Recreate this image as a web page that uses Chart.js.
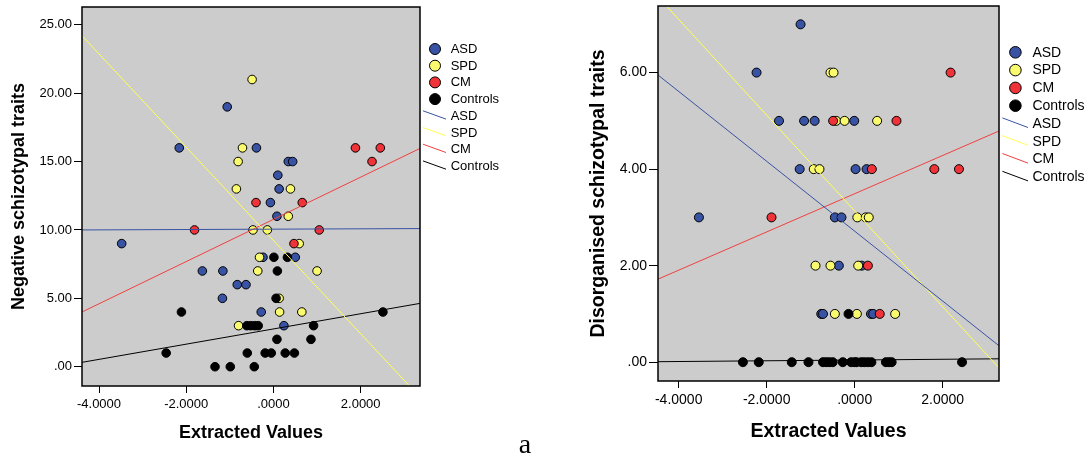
<!DOCTYPE html>
<html>
<head>
<meta charset="utf-8">
<script src="https://cdn.jsdelivr.net/npm/chart.js@4.4.0/dist/chart.umd.min.js"></script>
<style>
  body { margin: 0; background: #fff; width: 1088px; height: 462px; position: relative; overflow: hidden; }
  canvas { position: absolute; top: 0; }
  #negChart { left: 0; }
  #disChart { left: 540px; }
  #panel { position: absolute; left: 500px; width: 50px; top: 428px; text-align: center; font: 28px "Liberation Serif", serif; color: #000; }
</style>
</head>
<body>
<canvas id="negChart" width="540" height="462"></canvas>
<canvas id="disChart" width="548" height="462"></canvas>
<div id="panel">a</div>
<script>
// groups
const groups = ['ASD', 'SPD', 'CM', 'Controls'];

// negative schizotypal traits vs extracted values
const negASD_x = [-3.48, -2.16, -1.06, -0.39, 0.10, 0.34, 0.44, 0.13, -0.07, 0.08, -0.24, 0.50, -1.63, -1.16, -0.83, -0.63, -1.17, -0.28, 0.24];
const negASD_y = [9, 16, 19, 16, 14, 15, 15, 13, 12, 11, 8, 8, 7, 7, 6, 6, 5, 4, 3];
const negSPD_x = [-0.49, -0.71, -0.81, -0.85, 0.39, 0.34, -0.47, -0.14, 0.59, -0.32, -0.36, 1.00, 0.13, 0.14, 0.65, -0.80];
const negSPD_y = [21, 16, 15, 13, 13, 11, 10, 10, 9, 8, 7, 7, 5, 4, 4, 3];
const negCM_x = [1.88, 2.45, 2.26, -0.40, 0.66, -1.81, 1.05, 0.47];
const negCM_y = [16, 16, 15, 12, 12, 10, 10, 9];
const negCtl_x = [0.01, 0.32, 0.09, 0.06, -2.11, 2.51, -0.61, -0.52, -0.43, -0.35, 0.92, 0.08, 0.86, -2.46, -0.60, -0.19, -0.05, 0.27, 0.48, -1.34, -0.99, -0.44];
const negCtl_y = [8, 8, 7, 5, 4, 4, 3, 3, 3, 3, 3, 2, 2, 1, 1, 1, 1, 1, 1, 0, 0, 0];
// fit lines, value at left and right edge
const negFitX = [-4.39, 3.36];
const negFitASD = [10.0, 10.1];
const negFitSPD = [24.2, -2.23];
const negFitCM = [4.0, 15.96];
const negFitCtl = [0.32, 4.63];

// disorganised schizotypal traits vs extracted values
const disASD_x = [-1.23, -2.23, -1.72, -1.15, -0.91, -0.01, -1.25, 0.02, 0.27, -3.54, -0.45, -0.30, -0.36, 0.16, -0.76, -0.72, 0.37, 0.42];
const disASD_y = [7, 6, 5, 5, 5, 5, 4, 4, 4, 3, 3, 3, 2, 2, 1, 1, 1, 1];
const disSPD_x = [-0.55, -0.48, -0.42, -0.23, 0.51, -0.93, -0.80, 0.06, 0.25, 0.32, -0.89, -0.55, 0.08, -0.45, 0.05, 0.92];
const disSPD_y = [6, 6, 5, 5, 5, 4, 4, 3, 3, 3, 2, 2, 2, 1, 1, 1];
const disCM_x = [2.18, -0.49, 0.95, 0.39, 1.81, 2.37, -1.89, 0.30, 0.57];
const disCM_y = [6, 5, 5, 4, 4, 4, 3, 2, 1];
const disCtl_x = [-0.14, -2.54, -2.18, -1.43, -1.05, -0.72, -0.65, -0.58, -0.50, -0.27, -0.08, 0.00, 0.04, 0.15, 0.22, 0.30, 0.38, 0.71, 0.78, 0.84, 2.44];
const disCtl_y = [1, 0, 0, 0, 0, 0, 0, 0, 0, 0, 0, 0, 0, 0, 0, 0, 0, 0, 0, 0, 0];
const disFitX = [-4.47, 3.28];
const disFitASD = [5.95, 0.34];
const disFitSPD = [7.57, -0.12];
const disFitCM = [1.72, 4.79];
const disFitCtl = [0.01, 0.07];

const pointColors = ['#3953a4', '#fafa6e', '#ef3338', '#000000'];
const lineColors = ['#3953a4', '#ffff55', '#f04040', '#000000'];
const FONT = '"Liberation Sans", Arial, sans-serif';

const zip = (xs, ys) => xs.map((x, i) => ({ x: x, y: ys[i] }));

// SPSS style numbers: .00, 5.00, -2.0000
function spss(v, d) {
  let s = Math.abs(v).toFixed(d);
  if (s.startsWith('0')) s = s.slice(1);
  return (v < 0 ? '-' : '') + s;
}

// grey plot area with a black frame
const plotFrame = {
  id: 'plotFrame',
  beforeDraw(chart) {
    const a = chart.chartArea, ctx = chart.ctx;
    ctx.save();
    ctx.fillStyle = '#cccccc';
    ctx.fillRect(a.left, a.top, a.right - a.left, a.bottom - a.top);
    ctx.restore();
  },
  afterDraw(chart) {
    const a = chart.chartArea, ctx = chart.ctx;
    ctx.save();
    ctx.strokeStyle = '#000';
    ctx.lineWidth = 1.5;
    ctx.strokeRect(a.left, a.top, a.right - a.left, a.bottom - a.top);
    ctx.restore();
  }
};

// legend to the right: circles for groups, slanted strokes for fit lines
const sideLegend = {
  id: 'sideLegend',
  afterDraw(chart, args, o) {
    const ctx = chart.ctx, a = chart.chartArea;
    ctx.save();
    ctx.font = o.size + 'px ' + FONT;
    ctx.textBaseline = 'middle';
    ctx.fillStyle = '#000';
    chart.data.datasets.forEach((ds, i) => {
      const y = o.top + i * o.step;
      if (ds.showLine) {
        ctx.strokeStyle = ds.borderColor;
        ctx.lineWidth = 1;
        ctx.beginPath();
        ctx.moveTo(a.right + o.lineX0, y - o.lineDy0);
        ctx.lineTo(a.right + o.lineX1, y + o.lineDy1);
        ctx.stroke();
      } else {
        ctx.beginPath();
        ctx.arc(a.right + o.dotX, y, o.r, 0, Math.PI * 2);
        ctx.fillStyle = ds.backgroundColor;
        ctx.fill();
        ctx.strokeStyle = '#000';
        ctx.lineWidth = 1;
        ctx.stroke();
      }
      ctx.fillStyle = '#000';
      ctx.fillText(ds.label, a.right + o.textX, y + 0.5);
    });
    ctx.restore();
  }
};

function makeChart(id, c) {
  const datasets = [];
  c.pts.forEach((p, i) => datasets.push({
    label: groups[i], data: zip(p[0], p[1]),
    backgroundColor: pointColors[i], borderColor: '#000', borderWidth: 1,
    pointRadius: c.dot, pointHoverRadius: c.dot, order: 4 - i
  }));
  c.fits.forEach((f, i) => datasets.push({
    label: groups[i], data: zip(c.fitX, f), showLine: true,
    borderColor: lineColors[i], backgroundColor: lineColors[i], borderWidth: 1,
    pointRadius: 0, clip: 0, order: 0
  }));

  return new Chart(document.getElementById(id), {
    type: 'scatter',
    data: { datasets: datasets },
    plugins: [plotFrame, sideLegend],
    options: {
      responsive: false,
      animation: false,
      events: [],
      layout: { padding: { left: 0, top: c.top, right: c.right, bottom: 0 } },
      plugins: {
        legend: { display: false },
        tooltip: { enabled: false },
        sideLegend: c.legend
      },
      scales: {
        x: {
          type: 'linear', min: c.fitX[0], max: c.fitX[1],
          afterFit: s => { s.height = c.xH; s.paddingLeft = 0; s.paddingRight = 0; },
          border: { display: false },
          grid: { drawOnChartArea: false, drawTicks: true, tickLength: 7, color: '#000' },
          ticks: { stepSize: 2, includeBounds: false, maxRotation: 0, autoSkip: false, padding: c.xPad,
                   color: '#000', font: { family: FONT, size: c.tick }, callback: v => spss(v, 4) },
          title: { display: true, text: 'Extracted Values', color: '#000',
                   font: { family: FONT, size: c.title, weight: 'bold' }, padding: { top: 0, bottom: c.xTitlePad } }
        },
        y: {
          type: 'linear', min: c.yMin, max: c.yMax,
          afterFit: s => { s.width = c.yW; s.paddingTop = 0; s.paddingBottom = 0; },
          border: { display: false },
          grid: { drawOnChartArea: false, drawTicks: true, tickLength: c.yTick, color: '#000' },
          ticks: { stepSize: c.yStep, includeBounds: false, autoSkip: false, padding: 2,
                   color: '#000', font: { family: FONT, size: c.tick }, callback: v => spss(v, 2) },
          title: { display: true, text: c.yTitle, color: '#000',
                   font: { family: FONT, size: c.title, weight: 'bold' }, padding: { top: c.yTitlePad, bottom: 0 } }
        }
      }
    }
  });
}

makeChart('negChart', {
  pts: [[negASD_x, negASD_y], [negSPD_x, negSPD_y], [negCM_x, negCM_y], [negCtl_x, negCtl_y]],
  fitX: negFitX, fits: [negFitASD, negFitSPD, negFitCM, negFitCtl],
  yMin: -1.41, yMax: 26.3, yStep: 5, yTitle: 'Negative schizotypal traits',
  top: 7, right: 120, xH: 76, yW: 82, yTick: 8, xPad: 3.5,
  tick: 13, title: 18, xTitlePad: 18, yTitlePad: 8.5, dot: 4.3,
  legend: { top: 49, step: 16.7, dotX: 15, r: 5.5, textX: 30.7, size: 13, lineX0: 3, lineX1: 26, lineDy0: 5, lineDy1: 3.3 }
});

makeChart('disChart', {
  pts: [[disASD_x, disASD_y], [disSPD_x, disSPD_y], [disCM_x, disCM_y], [disCtl_x, disCtl_y]],
  fitX: disFitX, fits: [disFitASD, disFitSPD, disFitCM, disFitCtl],
  yMin: -0.39, yMax: 7.38, yStep: 2, yTitle: 'Disorganised schizotypal traits',
  top: 6, right: 89, xH: 81, yW: 118, yTick: 9, xPad: 3.5,
  tick: 14, title: 19.5, xTitlePad: 18.5, yTitlePad: 46.5, dot: 4.5,
  legend: { top: 52.3, step: 17.8, dotX: 16.4, r: 5.8, textX: 33.4, size: 14, lineX0: 3.4, lineX1: 29, lineDy0: 5.6, lineDy1: 4 }
});
</script>
</body>
</html>
